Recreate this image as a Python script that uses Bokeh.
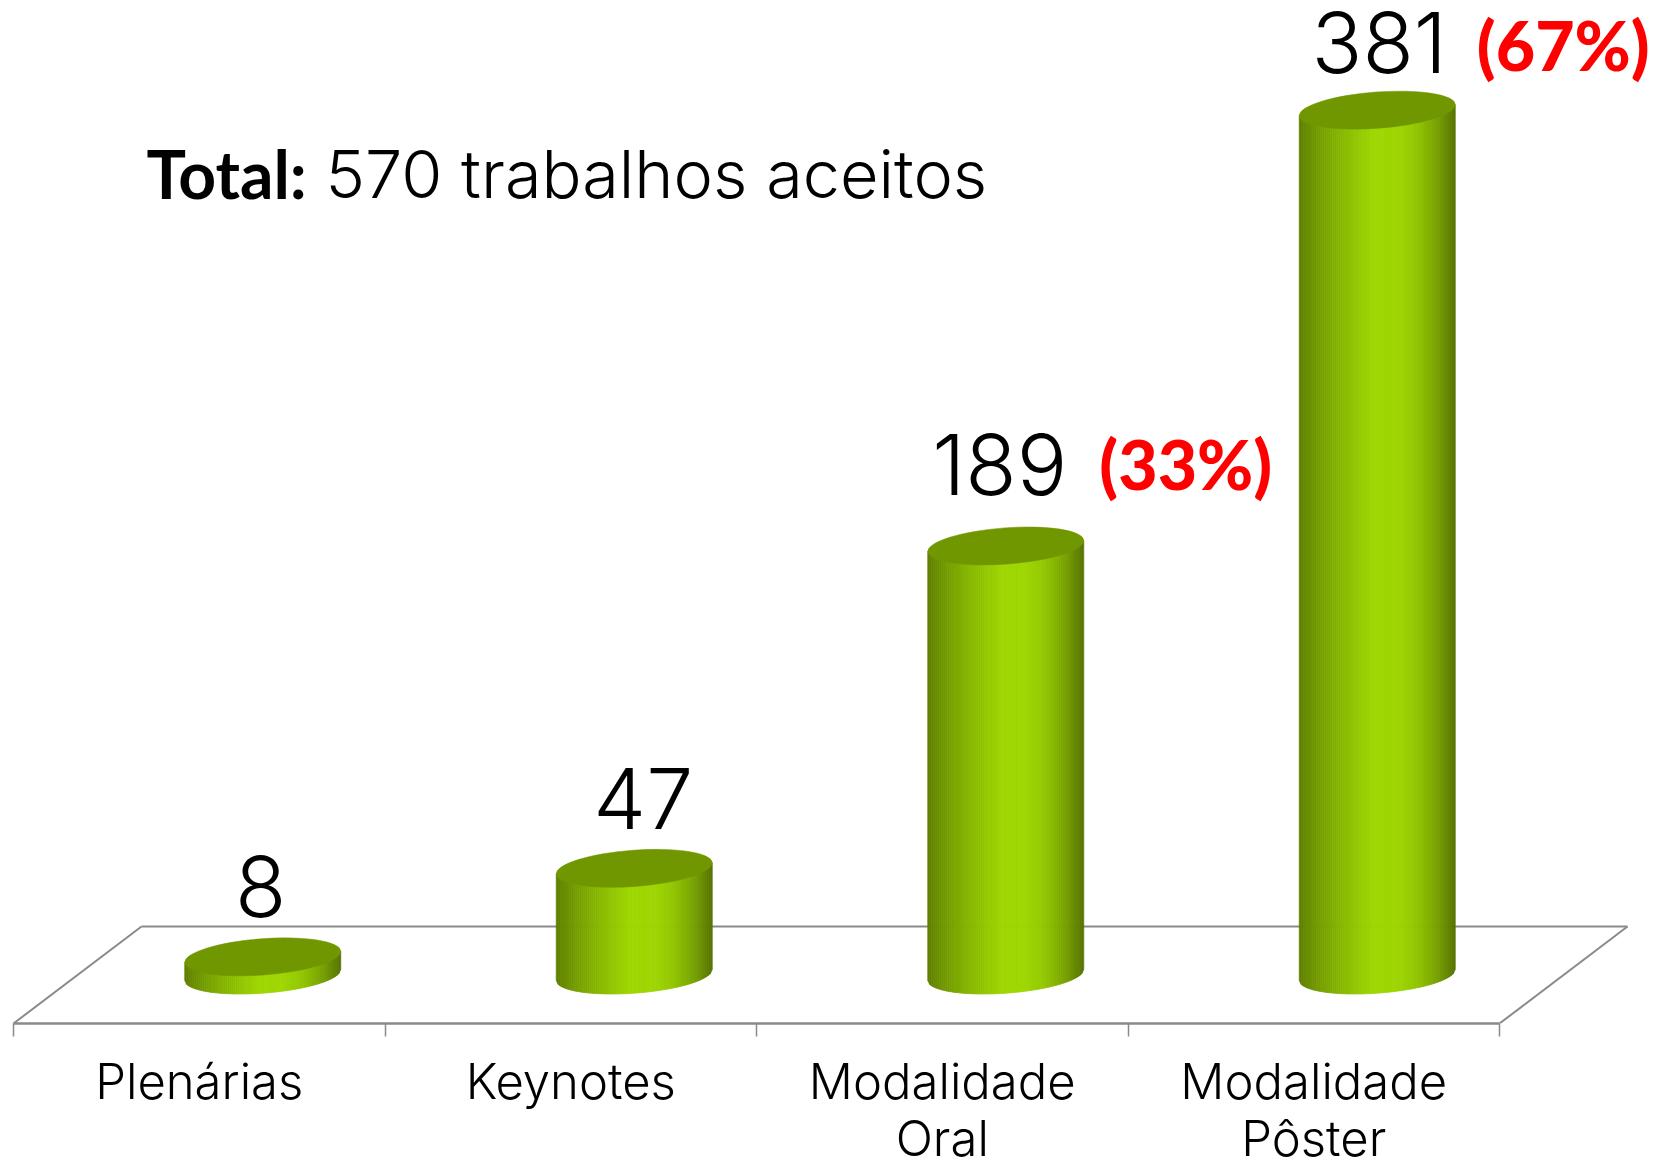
from bokeh.plotting import figure
from bokeh.models import ColumnDataSource, FixedTicker, LinearAxis
from bokeh.core.properties import value
from bokeh.embed import file_html
from bokeh.resources import INLINE
import numpy as np

categories = ["Plenárias", "Keynotes", "Modalidade\nOral", "Modalidade\nPôster"]
counts = [8, 47, 189, 381]
shares = [None, None, "(33%)", "(67%)"]
total_bold = "Total:"
total_rest = "570 trabalhos aceitos"

W, H = 1667, 1165
PX_X = 371.5           # pixels per category
PX_Y = 2.27            # pixels per count
FRAME_H = 1023
FLOOR = (FRAME_H - 974.5) / PX_Y
x0 = -13 / PX_X
x1 = x0 + W / PX_X
y0 = -FLOOR
y1 = y0 + FRAME_H / PX_Y

p = figure(width=W, height=H, x_range=(x0, x1), y_range=(y0, y1),
           output_backend="svg", toolbar_location=None, x_axis_location=None, y_axis_location=None,
           frame_width=W, frame_height=FRAME_H,
           min_border_left=0, min_border_right=0, min_border_top=0, min_border_bottom=0,
           outline_line_color=None, background_fill_color="white", border_fill_color="white")
p.grid.visible = False

GREY = "#8a8a8a"
DEPTH = 128 / PX_X
p.multi_line(xs=[[DEPTH, 4 + DEPTH], [0, DEPTH], [4, 4 + DEPTH]],
             ys=[[FLOOR, FLOOR], [-FLOOR, FLOOR], [-FLOOR, FLOOR]],
             line_color=GREY, line_width=2)

ax = LinearAxis(bounds=(0, 4))
centres = [i + 0.5 for i in range(len(categories))]
ax.ticker = FixedTicker(ticks=centres, minor_ticks=list(range(len(categories) + 1)))
ax.major_label_overrides = {c: t for c, t in zip(centres, categories)}
ax.major_tick_line_color = None
ax.major_tick_out = 0
ax.major_tick_in = 0
ax.minor_tick_line_color = GREY
ax.minor_tick_line_width = 1.5
ax.minor_tick_out = 13
ax.minor_tick_in = 0
ax.axis_line_color = GREY
ax.axis_line_width = 2.5
ax.major_label_text_font = "Inter Light"
ax.major_label_text_font_size = "49px"
ax.major_label_text_line_height = 0.98
ax.major_label_text_color = "black"
ax.major_label_standoff = 15
p.add_layout(ax, "below")

# cylinder shape, in pixels
A = 78.0
B = 18.2
C = 5.5
N = 80
DX = 63.5 / PX_X
left_col, mid_col, right_col = np.array([92, 122, 0.]), np.array([157, 214, 0.]), np.array([86, 114, 0.])

def shade(t):
    if t < 0.47:
        u = (t / 0.47) ** 0.75
        c = left_col + (mid_col - left_col) * u
    elif t < 0.6:
        c = mid_col
    else:
        u = ((t - 0.6) / 0.4) ** 1.8
        c = mid_col + (right_col - mid_col) * u
    return "#%02x%02x%02x" % tuple(int(round(v)) for v in c)

xs, ys, cols = [], [], []
ex, ey = [], []
for i, v in enumerate(counts):
    cx = i + 0.5 + DX
    edges = np.linspace(-1, 1, N + 1)
    for a, b in zip(edges[:-1], edges[1:]):
        low_a = (C * a - B * np.sqrt(max(0, 1 - a * a))) / PX_Y
        low_b = (C * b - B * np.sqrt(max(0, 1 - b * b))) / PX_Y
        xs.append([cx + q * A / PX_X for q in (a, b, b, a)])
        ys.append([v + C * a / PX_Y, v + C * b / PX_Y, low_b, low_a])
        cols.append(shade((a + b + 2) / 4))
    ex.append(cx)
    ey.append(v)

p.patches(xs, ys, fill_color=cols, line_color=cols, line_width=0.7)
p.ellipse(ex, ey, width=156.4, height=36.3, width_units="screen", height_units="screen",
          angle=np.radians(4.24), fill_color="#709600", line_color="#709600", line_width=0.5)

src = ColumnDataSource(dict(x=ex, y=counts, t=[str(c) for c in counts],
                            dx=[-2, 9, -6, 2], dy=[-70, -70, -81, -68]))
p.text("x", "y", text="t", source=src, text_font=value("Inter Light"), text_font_size="84px",
       text_color="black", text_align="center", text_baseline="alphabetic",
       x_offset="dx", y_offset="dy")

keep = [i for i in range(4) if shares[i]]
src2 = ColumnDataSource(dict(x=[ex[i] for i in keep], y=[counts[i] for i in keep],
                             t=[shares[i] for i in keep], dx=[180, 186], dy=[-82, -66]))
p.text("x", "y", text="t", source=src2, text_font=value("Lato Black"), text_font_style="bold",
       text_font_size="68px", text_color="#ff0000", text_align="center", text_baseline="alphabetic",
       x_offset="dx", y_offset="dy")

BASE = (974.5 - 197) / PX_Y
p.text([(146 - 13) / PX_X], [BASE], text=[total_bold], text_font=value("Lato"),
       text_font_style="bold", text_font_size="66px", text_color="black", text_baseline="alphabetic",
       y_offset=-24)
p.text([(325 - 13) / PX_X], [BASE], text=[total_rest], text_font=value("Inter Light"),
       text_font_size="66.6px", text_color="black", text_baseline="alphabetic", y_offset=-24)

open("out.html", "w").write(file_html(p, INLINE))
